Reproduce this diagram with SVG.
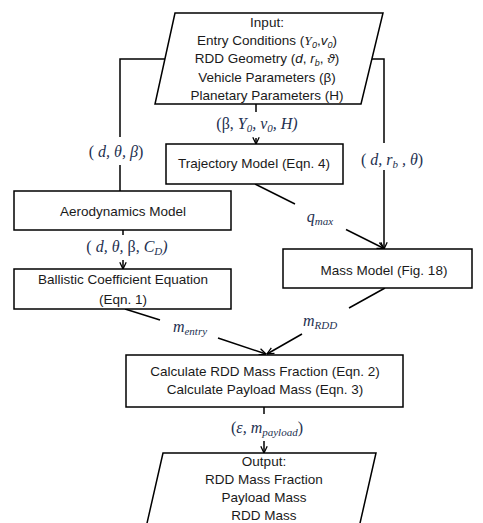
<svg xmlns="http://www.w3.org/2000/svg" width="483" height="523" viewBox="0 0 483 523">
<defs>
<marker id="arr" viewBox="0 0 10 10" refX="9.5" refY="5" markerWidth="8" markerHeight="8" markerUnits="userSpaceOnUse" orient="auto">
<path d="M1,1 L9.5,5 L1,9" fill="none" stroke="#000" stroke-width="1.6"/>
</marker>
<style>
.box{fill:#fff;stroke:#000;stroke-width:1.5}
.t{font-family:"Liberation Sans",Arial,sans-serif;font-size:13.5px;fill:#1a1a1a;text-anchor:middle}
.l{font-family:"Liberation Serif","Times New Roman",serif;font-size:16px;font-style:italic;fill:#243050;text-anchor:middle}
.u{font-style:normal}
.s{font-size:11px}
.c{fill:none;stroke:#000;stroke-width:1.5}
</style>
</defs>
<g id="connectors">
<polyline class="c" points="165,59 120,59 120,137"/>
<line class="c" x1="120" y1="165" x2="120" y2="191"/>
<polyline class="c" points="372,59 384,59 384,143"/>
<line class="c" x1="384" y1="170" x2="384" y2="249" marker-end="url(#arr)"/>
<line class="c" x1="256" y1="104" x2="256" y2="112"/>
<line class="c" x1="256" y1="138" x2="256" y2="144" marker-end="url(#arr)"/>
<line class="c" x1="255" y1="184" x2="295" y2="204"/>
<line class="c" x1="346" y1="229.5" x2="384" y2="248.5" marker-end="url(#arr)"/>
<line class="c" x1="123" y1="230" x2="123" y2="235"/>
<line class="c" x1="123" y1="260" x2="123" y2="269" marker-end="url(#arr)"/>
<line class="c" x1="125" y1="309" x2="160" y2="320"/>
<line class="c" x1="218" y1="338" x2="266" y2="354" marker-end="url(#arr)"/>
<line class="c" x1="385" y1="288" x2="349" y2="308"/>
<line class="c" x1="302" y1="334" x2="267" y2="354" marker-end="url(#arr)"/>
<line class="c" x1="264" y1="407" x2="264" y2="414"/>
<line class="c" x1="264" y1="441" x2="264" y2="453" marker-end="url(#arr)"/>
<text class="l" x="257" y="129"><tspan class="u">(β, </tspan>Υ<tspan class="s" dy="3">0</tspan><tspan dy="-3">, v</tspan><tspan class="s" dy="3">0</tspan><tspan dy="-3">, H)</tspan></text>
<text class="l" x="116" y="157"><tspan class="u">( </tspan>d, θ, β<tspan class="u">)</tspan></text>
<text class="l" x="392" y="165"><tspan class="u">( </tspan>d, r<tspan class="s" dy="3">b</tspan><tspan dy="-3"> , θ</tspan><tspan class="u">)</tspan></text>
<text class="l" x="320" y="222">q<tspan class="s" dy="3">max</tspan></text>
<text class="l" x="127" y="252"><tspan class="u">( </tspan>d, θ, <tspan class="u">β, </tspan>C<tspan class="s" dy="3">D</tspan><tspan dy="-3">)</tspan></text>
<text class="l" x="190" y="332">m<tspan class="s" dy="3">entry</tspan></text>
<text class="l" x="320" y="326">m<tspan class="s" dy="3">RDD</tspan></text>
<text class="l" x="267" y="433"><tspan class="u">(</tspan>ε, m<tspan class="s" dy="3">payload</tspan><tspan class="u" dy="-3">)</tspan></text>
</g>
<g id="input">
<polygon class="box" points="175,13 383,13 361,104 155,104"/>
<text class="t" x="267" y="27">Input:</text>
<text class="t" x="267" y="45">Entry Conditions (<tspan font-style="italic" font-family="Liberation Serif">Υ</tspan><tspan font-size="9" dy="3" font-style="italic">0</tspan><tspan dy="-3">,</tspan><tspan font-style="italic">v</tspan><tspan font-size="9" dy="3" font-style="italic">0</tspan><tspan dy="-3">)</tspan></text>
<text class="t" x="267" y="63">RDD Geometry (<tspan font-style="italic">d</tspan>, <tspan font-style="italic">r</tspan><tspan font-size="9" dy="3" font-style="italic">b</tspan><tspan dy="-3">, </tspan><tspan font-style="italic">ϑ</tspan>)</text>
<text class="t" x="267" y="82">Vehicle Parameters (β)</text>
<text class="t" x="267" y="100">Planetary Parameters (H)</text>
</g>
<g id="trajectory">
<rect class="box" x="166" y="144" width="177" height="40"/>
<text class="t" x="254" y="168">Trajectory Model (Eqn. 4)</text>
</g>
<g id="aero">
<rect class="box" x="14" y="191" width="217" height="39"/>
<text class="t" x="123" y="216">Aerodynamics Model</text>
</g>
<g id="ballistic">
<rect class="box" x="14" y="269" width="217" height="40"/>
<text class="t" x="123" y="284">Ballistic Coefficient Equation</text>
<text class="t" x="123" y="304">(Eqn. 1)</text>
</g>
<g id="mass">
<rect class="box" x="283" y="249" width="189" height="39"/>
<text class="t" x="384" y="275">Mass Model (Fig. 18)</text>
</g>
<g id="calc">
<rect class="box" x="126" y="355" width="277" height="52"/>
<text class="t" x="265" y="376">Calculate RDD Mass Fraction (Eqn. 2)</text>
<text class="t" x="265" y="394">Calculate Payload Mass (Eqn. 3)</text>
</g>
<g id="output">
<polygon class="box" points="163,453 376,453 358,532 145,532"/>
<text class="t" x="264" y="466">Output:</text>
<text class="t" x="264" y="484">RDD Mass Fraction</text>
<text class="t" x="264" y="502">Payload Mass</text>
<text class="t" x="264" y="519.5">RDD Mass</text>
</g>
</svg>
